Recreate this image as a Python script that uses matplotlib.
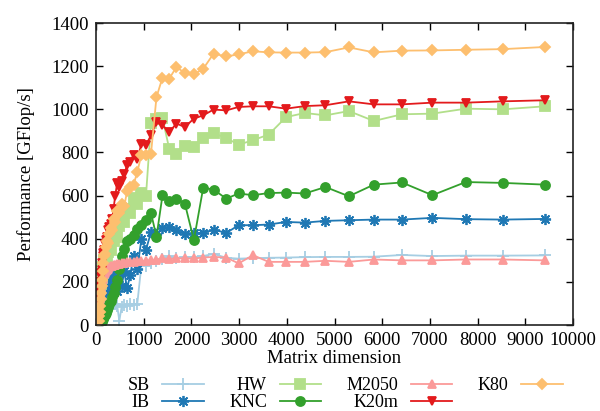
import matplotlib
matplotlib.use("Agg")
import matplotlib.pyplot as plt

plt.rcParams['font.family'] = 'serif'
plt.rcParams['font.serif'] = ['Liberation Serif', 'DejaVu Serif']

# Matrix sizes measured (shared by every platform)
dims = [64, 72, 80, 88, 96, 106, 117, 128, 141, 156,
        171, 188, 207, 228, 251, 276, 304, 334, 367, 404,
        444, 489, 538, 592, 651, 716, 787, 866, 953, 1048,
        1153, 1268, 1394, 1534, 1687, 1863, 2052, 2248, 2465,
        2731, 2990, 3291, 3621, 3985, 4377, 4811, 5301, 5825, 6414, 7052, 7752, 8534, 9413]

# GFlop/s per platform
sb = [20, 30, 40, 50, 60, 110, 70, 150, 80, 120,
      90, 85, 100, 95, 90, 100, 80, 95, 100, 100,
      90, 20, 85, 95, 90, 100, 95, 100, 280, 275,
      290, 295, 305, 320, 310, 315, 315, 320, 330,
      312, 308, 310, 312, 313, 315, 316, 316, 317, 325, 320, 322, 322, 323]
ib = [60, 90, 110, 70, 130, 100, 150, 120, 170, 140,
      190, 160, 210, 180, 230, 200, 240, 170, 250, 220,
      160, 240, 180, 250, 170, 230, 320, 260, 400, 350,
      430, 420, 448, 455, 440, 420, 425, 427, 443,
      427, 463, 463, 466, 478, 475, 483, 486, 489, 489, 497, 491, 489, 492]
hw = [90, 140, 170, 200, 230, 190, 250, 220, 270, 240,
      300, 280, 330, 310, 340, 370, 350, 400, 390, 420,
      410, 460, 500, 480, 540, 520, 590, 560, 610, 600,
      935, 955, 960, 818, 795, 829, 826, 869, 890,
      867, 836, 857, 883, 964, 983, 972, 992, 946, 977, 980, 1003, 1000, 1014]
knc = [2, 4, 6, 8, 10, 13, 17, 21, 26, 32,
       40, 48, 58, 70, 82, 96, 112, 130, 150, 175,
       210, 260, 320, 355, 390, 401, 417, 445, 463, 486,
       520, 409, 602, 576, 586, 563, 394, 637, 628,
       586, 610, 602, 612, 614, 610, 640, 597, 651, 661, 602, 663, 659, 651]
m2050 = [80, 100, 120, 140, 160, 175, 190, 205, 215, 225,
         235, 240, 250, 255, 262, 268, 272, 276, 278, 280,
         282, 285, 287, 289, 291, 293, 294, 296, 297, 298,
         300, 302, 309, 306, 310, 309, 309, 313, 316,
         313, 286, 324, 293, 293, 293, 298, 293, 304, 300, 300, 304, 304, 300]
k20m = [120, 150, 175, 200, 225, 240, 255, 290, 320, 335,
        350, 375, 395, 410, 440, 455, 470, 490, 540, 600,
        660, 640, 670, 700, 740, 755, 790, 770, 840, 835,
        880, 940, 926, 895, 934, 918, 957, 972, 999,
        995, 1011, 1014, 1014, 1003, 1015, 1019, 1037, 1023, 1023, 1031, 1031, 1037, 1042]
k80 = [20, 40, 60, 90, 120, 150, 180, 210, 250, 290,
       320, 330, 360, 390, 380, 420, 450, 440, 490, 480,
       530, 520, 560, 550, 620, 640, 650, 710, 790, 787,
       795, 1057, 1147, 1142, 1196, 1168, 1162, 1188, 1258,
       1245, 1255, 1269, 1264, 1263, 1263, 1265, 1287, 1264, 1272, 1273, 1276, 1279, 1289]

series = [
    ("SB", sb, '#a6cee3', '+', 8),
    ("IB", ib, '#1f78b4', (8, 2, 0), 8),
    ("HW", hw, '#b2df8a', 's', 6.5),
    ("KNC", knc, '#33a02c', 'o', 6.5),
    ("M2050", m2050, '#fb9a99', '^', 6),
    ("K20m", k20m, '#e31a1c', 'v', 6),
    ("K80", k80, '#fdbf6f', 'D', 5),
]

fig = plt.figure(figsize=(6, 4.11), dpi=100)
ax = fig.add_axes([0.16, 0.209, 0.795, 0.735])

for name, vals, col, mk, ms in series:
    ax.plot(dims, vals, color=col, marker=mk, markersize=ms, lw=1.3,
            markeredgewidth=1.3, label=name)

ax.set_xlim(0, 10000)
ax.set_ylim(0, 1400)
ax.set_xticks(range(0, 10001, 1000))
ax.set_yticks(range(0, 1401, 200))
ax.tick_params(direction='in', top=True, right=True, length=5, width=1,
               labelsize=13.5, pad=5)
for sp in ax.spines.values():
    sp.set_linewidth(1.2)
    sp.set_color('#222222')

ax.set_xlabel("Matrix dimension", fontsize=13.5, labelpad=1)
ax.set_ylabel("Performance [GFlop/s]", fontsize=13.5, labelpad=12)

# gnuplot-style key under the plot: label first, then the line sample
fig.legend(loc='upper center', bbox_to_anchor=(0.575, 0.104), ncol=4,
           frameon=False, markerfirst=False, fontsize=13, handlelength=2.3,
           columnspacing=1.4, labelspacing=0.0, handletextpad=0.7,
           borderpad=0)

fig.savefig("out.png", dpi=100)
